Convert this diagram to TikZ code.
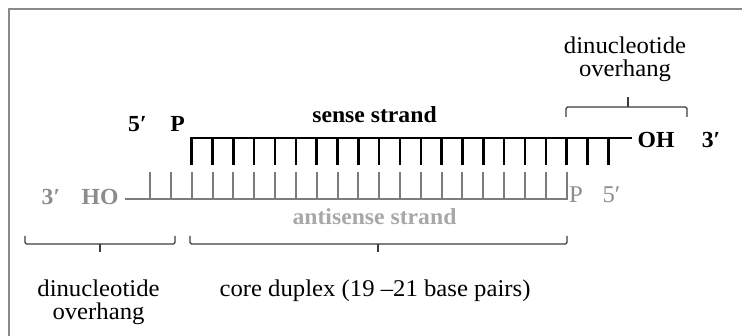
\documentclass[tikz,border=0pt]{standalone}
\usepackage{fontspec}
\setmainfont{Liberation Serif}[FakeStretch=1.03]
\definecolor{framegray}{HTML}{8A8A8A}
\definecolor{antigray}{HTML}{7C7C7C}
\definecolor{labelgray}{HTML}{8C8C8C}
\definecolor{palegray}{HTML}{A8A8A8}
\definecolor{bracegray}{HTML}{3C3C3C}
\begin{document}
\begin{tikzpicture}[x=1pt,y=-1pt,
  sensestrand/.style={line width=2.6pt, black, line join=miter},
  antistrand/.style={line width=2pt, antigray, line join=miter},
  bracket/.style={line width=1.3pt, bracegray, rounded corners=1.5pt},
  txt/.style={inner sep=0pt, anchor=base, font=\fontsize{24}{28}\selectfont},
  boldtxt/.style={txt, font=\fontsize{23}{27}\selectfont\bfseries}]
\useasboundingbox (0,0) rectangle (742,336);
% frame
\draw[framegray, line width=1.2pt] (9,336) -- (9,9) -- (742,9);

% sense strand (top, black)
\coordinate (sA) at (191.7,165);
\coordinate (sB) at (191.7,138);
\coordinate (sC) at (632,138);
\draw[sensestrand] (sA) -- (sB) -- (sC);
\foreach \i in {1,...,20}
  \draw[sensestrand] (191.7+20.83*\i,138) -- ++(0,27);

% antisense strand (bottom, gray)
\coordinate (aA) at (125,199);
\coordinate (aB) at (566.7,199);
\coordinate (aC) at (566.7,172);
\draw[antistrand] (aA) -- (aB) -- (aC);
\foreach \i in {-2,...,17}
  \draw[antistrand] (191.7+20.83*\i,199) -- ++(0,-27);

% end labels
\node[boldtxt] (fiveS) at (137.5,132) {5′};
\node[boldtxt] (pS) at (177.5,132) {P};
\node[boldtxt] (ohS) at (656,148) {OH};
\node[boldtxt] (threeS) at (711,148) {3′};
\node[boldtxt, labelgray] (threeA) at (51,205) {3′};
\node[boldtxt, labelgray] (hoA) at (100,205) {HO};
\node[txt, labelgray] (pA) at (576,203) {P};
\node[txt, labelgray] (fiveA) at (611.5,203) {5′};

% strand names
\node[boldtxt] (sname) at (374.5,123) {sense strand};
\node[boldtxt, palegray] (aname) at (374.5,225) {antisense strand};

% brackets
\draw[bracket] (566,117) -- (566,107) -- (687,107) -- (687,117);
\draw[bracket] (628,107) -- (628,97);
\draw[bracket] (25,236) -- (25,244) -- (175,244) -- (175,236);
\draw[bracket] (100,244) -- (100,252);
\draw[bracket] (190,236) -- (190,244) -- (567,244) -- (567,236);
\draw[bracket] (378,244) -- (378,252);

% bracket captions
\node[txt] (ovTop1) at (625,54) {dinucleotide};
\node[txt] (ovTop2) at (625,77) {overhang};
\node[txt] (ovBot1) at (98.5,297) {dinucleotide};
\node[txt] (ovBot2) at (98.5,320) {overhang};
\node[txt] (core) at (375,297) {core duplex (19 –21 base pairs)};
\end{tikzpicture}
\end{document}
